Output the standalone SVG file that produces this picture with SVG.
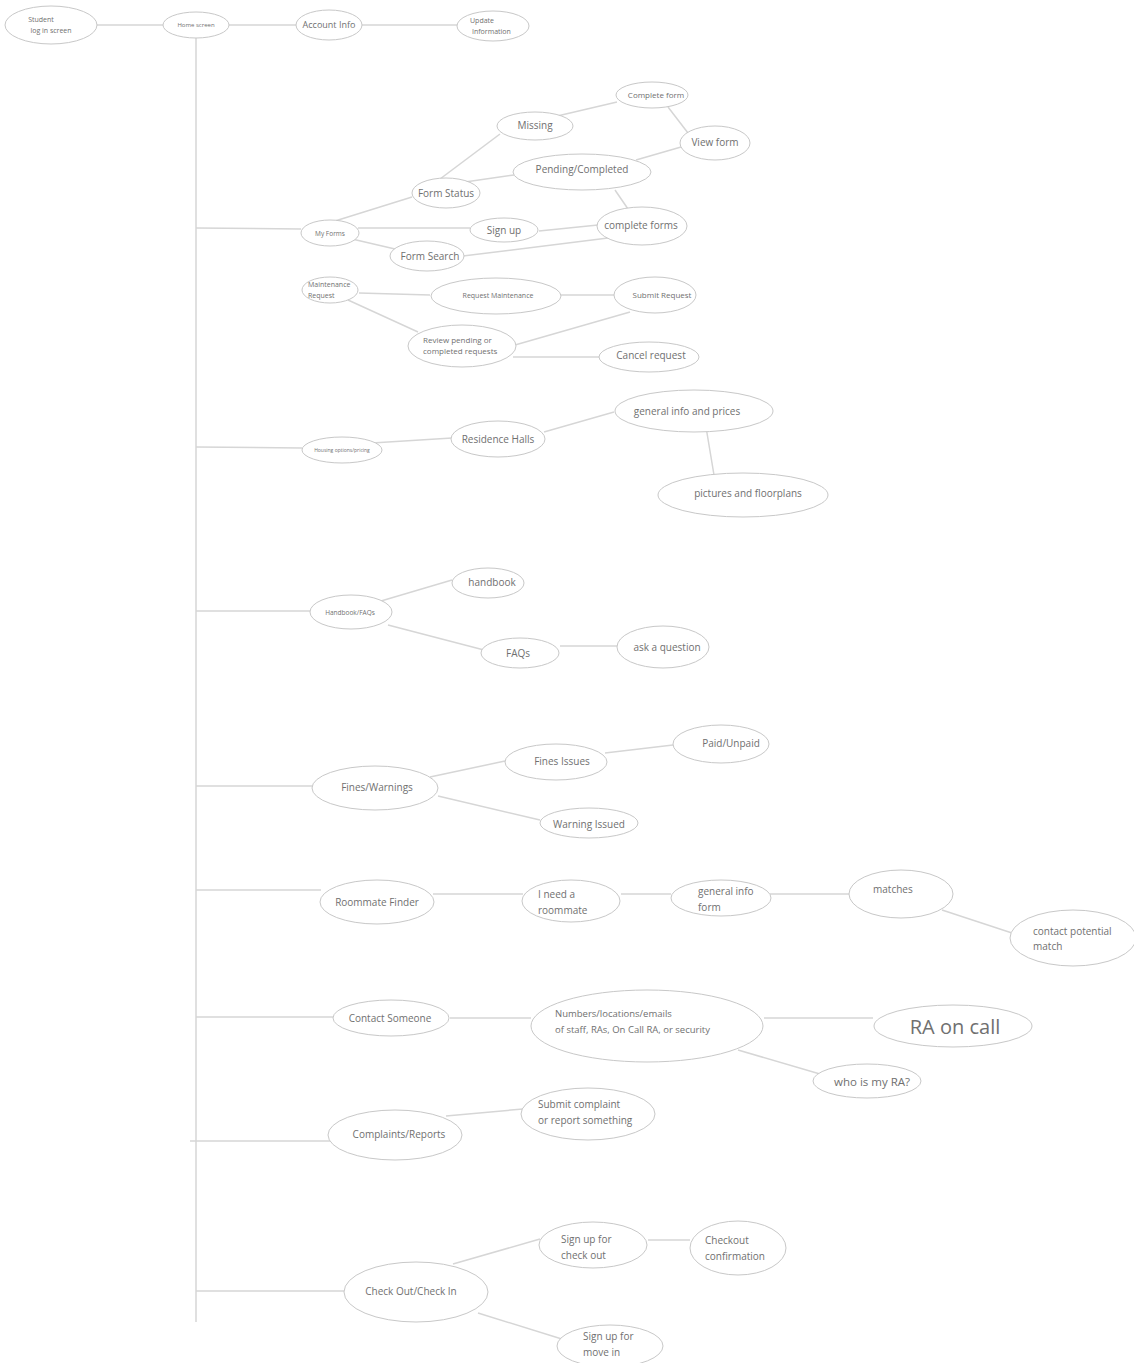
<svg xmlns="http://www.w3.org/2000/svg" width="1134" height="1363" viewBox="0 0 1134 1363">
<style>
ellipse{fill:#fff;stroke:#c8c8c8;stroke-width:1}
line{stroke:#d6d6d6;stroke-width:1.5}
text{font-family:"Open Sans","Noto Sans",sans-serif;fill:#707070;font-size:10px}
.m{text-anchor:middle}
</style>
<rect width="1134" height="1363" fill="#fff"/>
<g id="connectors">
<line x1="97" y1="25" x2="163" y2="25"/>
<line x1="229" y1="25" x2="296" y2="25"/>
<line x1="362" y1="25" x2="457" y2="25"/>
<line x1="196" y1="38" x2="196" y2="1322"/>
<line x1="196" y1="228" x2="301" y2="229"/>
<line x1="196" y1="447" x2="302" y2="448"/>
<line x1="196" y1="611" x2="310" y2="611"/>
<line x1="196" y1="786" x2="313" y2="786"/>
<line x1="196" y1="890" x2="321" y2="890"/>
<line x1="196" y1="1017" x2="334" y2="1017"/>
<line x1="190" y1="1141" x2="330" y2="1141"/>
<line x1="196" y1="1291" x2="344" y2="1291"/>
<line x1="335" y1="221" x2="412" y2="197"/>
<line x1="440" y1="179" x2="500" y2="134"/>
<line x1="553" y1="117" x2="617" y2="102"/>
<line x1="668" y1="107" x2="688" y2="133"/>
<line x1="465" y1="182" x2="514" y2="175"/>
<line x1="636" y1="160" x2="681" y2="147"/>
<line x1="615" y1="190" x2="628" y2="209"/>
<line x1="358" y1="228" x2="470" y2="228"/>
<line x1="539" y1="231" x2="598" y2="225"/>
<line x1="352" y1="239" x2="395" y2="249"/>
<line x1="463" y1="256" x2="608" y2="238"/>
<line x1="359" y1="293" x2="430" y2="295"/>
<line x1="560" y1="295" x2="614" y2="295"/>
<line x1="348" y1="300" x2="418" y2="332"/>
<line x1="515" y1="345" x2="630" y2="312"/>
<line x1="513" y1="357" x2="599" y2="357"/>
<line x1="372" y1="443" x2="452" y2="438"/>
<line x1="544" y1="432" x2="614" y2="412"/>
<line x1="706" y1="427" x2="714" y2="475"/>
<line x1="381" y1="601" x2="452" y2="580"/>
<line x1="388" y1="625" x2="484" y2="650"/>
<line x1="560" y1="646" x2="617" y2="646"/>
<line x1="430" y1="777" x2="505" y2="761"/>
<line x1="605" y1="753" x2="673" y2="745"/>
<line x1="438" y1="796" x2="540" y2="820"/>
<line x1="433" y1="894" x2="523" y2="894"/>
<line x1="621" y1="894" x2="671" y2="894"/>
<line x1="770" y1="894" x2="849" y2="894"/>
<line x1="942" y1="910" x2="1012" y2="933"/>
<line x1="450" y1="1018" x2="531" y2="1018"/>
<line x1="764" y1="1018" x2="873" y2="1018"/>
<line x1="738" y1="1050" x2="820" y2="1074"/>
<line x1="446" y1="1116" x2="523" y2="1109"/>
<line x1="453" y1="1264" x2="540" y2="1239"/>
<line x1="648" y1="1240" x2="690" y2="1240"/>
<line x1="478" y1="1313" x2="565" y2="1340"/>
</g>
<g id="n-student"><ellipse cx="51" cy="25" rx="46" ry="19"/><text x="41" y="22" class="m" style="font-size:7px">Student</text><text x="51" y="33" class="m" style="font-size:7px">log in screen</text></g>
<g id="n-home"><ellipse cx="196" cy="25" rx="33" ry="13"/><text x="196" y="27" class="m" style="font-size:6px">Home screen</text></g>
<g id="n-account"><ellipse cx="329" cy="25" rx="33" ry="15"/><text x="329" y="28" class="m" style="font-size:9px">Account Info</text></g>
<g id="n-update"><ellipse cx="493" cy="26" rx="36" ry="15"/><text x="470" y="23" style="font-size:7px">Update</text><text x="472" y="34" style="font-size:7px">Information</text></g>
<g id="n-myforms"><ellipse cx="330" cy="233" rx="29" ry="13"/><text x="330" y="236" class="m" style="font-size:6.5px">My Forms</text></g>
<g id="n-formstatus"><ellipse cx="446" cy="193" rx="34" ry="15"/><text x="446" y="197" class="m">Form Status</text></g>
<g id="n-missing"><ellipse cx="535" cy="126" rx="38" ry="14"/><text x="535" y="129" class="m">Missing</text></g>
<g id="n-completeform"><ellipse cx="652" cy="95" rx="36" ry="13"/><text x="656" y="98" class="m" style="font-size:8px">Complete form</text></g>
<g id="n-viewform"><ellipse cx="715" cy="143" rx="35" ry="17"/><text x="715" y="146" class="m">View form</text></g>
<g id="n-pending"><ellipse cx="582" cy="172" rx="69" ry="18"/><text x="582" y="173" class="m">Pending/Completed</text></g>
<g id="n-signup"><ellipse cx="504" cy="230" rx="34" ry="12"/><text x="504" y="234" class="m">Sign up</text></g>
<g id="n-completeforms"><ellipse cx="642" cy="226" rx="45" ry="19"/><text x="641" y="229" class="m">complete forms</text></g>
<g id="n-formsearch"><ellipse cx="427" cy="256" rx="37" ry="15"/><text x="430" y="260" class="m">Form Search</text></g>
<g id="n-maint"><ellipse cx="330" cy="290" rx="28" ry="13"/><text x="308" y="287" style="font-size:7px">Maintenance</text><text x="308" y="298" style="font-size:7px">Request</text></g>
<g id="n-reqmaint"><ellipse cx="496" cy="296" rx="65" ry="18"/><text x="498" y="298" class="m" style="font-size:7px">Request Maintenance</text></g>
<g id="n-submitreq"><ellipse cx="655" cy="295" rx="41" ry="18"/><text x="662" y="298" class="m" style="font-size:8px">Submit Request</text></g>
<g id="n-review"><ellipse cx="462" cy="346" rx="54" ry="21"/><text x="423" y="343" style="font-size:8px">Review pending or</text><text x="423" y="354" style="font-size:8px">completed requests</text></g>
<g id="n-cancel"><ellipse cx="649" cy="357" rx="50" ry="15"/><text x="651" y="359" class="m">Cancel request</text></g>
<g id="n-housing"><ellipse cx="342" cy="450" rx="40" ry="13"/><text x="342" y="452" class="m" style="font-size:5px">Housing options/pricing</text></g>
<g id="n-residence"><ellipse cx="498" cy="439" rx="47" ry="18"/><text x="498" y="443" class="m">Residence Halls</text></g>
<g id="n-geninfo"><ellipse cx="694" cy="411" rx="79" ry="21"/><text x="687" y="415" class="m">general info and prices</text></g>
<g id="n-pictures"><ellipse cx="743" cy="495" rx="85" ry="22"/><text x="748" y="497" class="m">pictures and floorplans</text></g>
<g id="n-handbookfaqs"><ellipse cx="351" cy="612" rx="41" ry="17"/><text x="350" y="615" class="m" style="font-size:6.5px">Handbook/FAQs</text></g>
<g id="n-handbook"><ellipse cx="488" cy="583" rx="36" ry="15"/><text x="492" y="586" class="m">handbook</text></g>
<g id="n-faqs"><ellipse cx="520" cy="653" rx="39" ry="15"/><text x="518" y="657" class="m">FAQs</text></g>
<g id="n-ask"><ellipse cx="663" cy="647" rx="46" ry="21"/><text x="667" y="651" class="m">ask a question</text></g>
<g id="n-fines"><ellipse cx="375" cy="788" rx="63" ry="22"/><text x="377" y="791" class="m">Fines/Warnings</text></g>
<g id="n-finesissues"><ellipse cx="556" cy="762" rx="51" ry="18"/><text x="562" y="765" class="m">Fines Issues</text></g>
<g id="n-paid"><ellipse cx="721" cy="744" rx="48" ry="19"/><text x="731" y="747" class="m">Paid/Unpaid</text></g>
<g id="n-warning"><ellipse cx="589" cy="823" rx="49" ry="15"/><text x="589" y="828" class="m">Warning Issued</text></g>
<g id="n-roommate"><ellipse cx="377" cy="902" rx="57" ry="22"/><text x="377" y="906" class="m">Roommate Finder</text></g>
<g id="n-ineed"><ellipse cx="571" cy="901" rx="49" ry="21"/><text x="538" y="898">I need a</text><text x="538" y="914">roommate</text></g>
<g id="n-geninfoform"><ellipse cx="721" cy="898" rx="50" ry="18"/><text x="698" y="895">general info</text><text x="698" y="911">form</text></g>
<g id="n-matches"><ellipse cx="901" cy="894" rx="52" ry="24"/><text x="873" y="893">matches</text></g>
<g id="n-contactmatch"><ellipse cx="1073" cy="938" rx="63" ry="28"/><text x="1033" y="935">contact potential</text><text x="1033" y="950">match</text></g>
<g id="n-contact"><ellipse cx="391" cy="1018" rx="58" ry="18"/><text x="390" y="1022" class="m">Contact Someone</text></g>
<g id="n-numbers"><ellipse cx="647" cy="1026" rx="116" ry="36"/><text x="555" y="1017" style="font-size:9.5px">Numbers/locations/emails</text><text x="555" y="1033" style="font-size:9.5px">of staff, RAs, On Call RA, or security</text></g>
<g id="n-raoncall"><ellipse cx="953" cy="1026" rx="79" ry="21"/><text x="955" y="1034" class="m" style="font-size:20px">RA on call</text></g>
<g id="n-whoisra"><ellipse cx="867" cy="1081" rx="54" ry="17"/><text x="872" y="1086" class="m" style="font-size:11.5px">who is my RA?</text></g>
<g id="n-complaints"><ellipse cx="395" cy="1135" rx="67" ry="25"/><text x="399" y="1138" class="m">Complaints/Reports</text></g>
<g id="n-submitcomplaint"><ellipse cx="588" cy="1114" rx="67" ry="26"/><text x="538" y="1108">Submit complaint</text><text x="538" y="1124">or report something</text></g>
<g id="n-checkout"><ellipse cx="416" cy="1292" rx="72" ry="30"/><text x="411" y="1295" class="m">Check Out/Check In</text></g>
<g id="n-signupcheckout"><ellipse cx="593" cy="1245" rx="54" ry="23"/><text x="561" y="1243">Sign up for</text><text x="561" y="1259">check out</text></g>
<g id="n-confirm"><ellipse cx="738" cy="1248" rx="48" ry="27"/><text x="705" y="1244">Checkout</text><text x="705" y="1260">confirmation</text></g>
<g id="n-movein"><ellipse cx="610" cy="1346" rx="53" ry="21"/><text x="583" y="1340">Sign up for</text><text x="583" y="1356">move in</text></g>
</svg>
